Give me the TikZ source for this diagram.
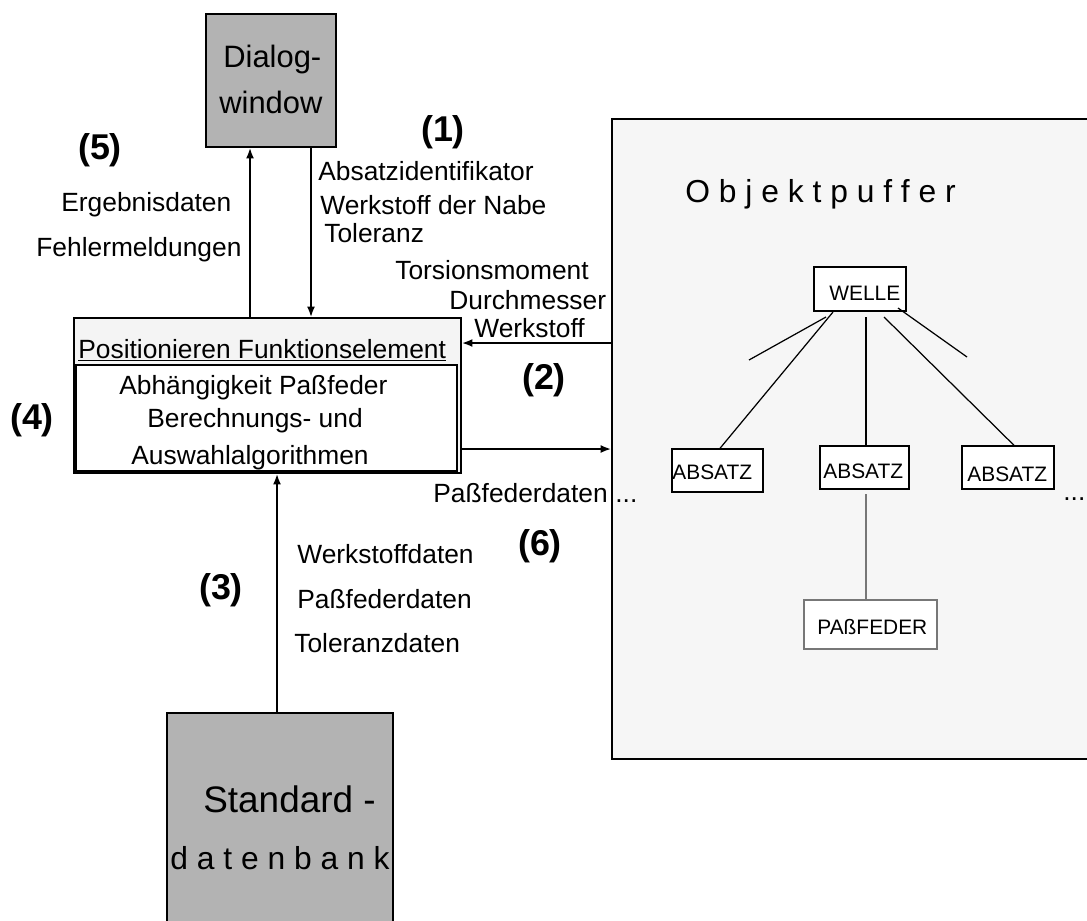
\documentclass[tikz,border=0pt]{standalone}
\usepackage{fontspec}
\setmainfont{Liberation Sans}
\usetikzlibrary{arrows.meta,fit}
\definecolor{boxgray}{HTML}{B3B3B3}
\definecolor{panel}{HTML}{F6F6F6}
\definecolor{headfill}{HTML}{F4F4F4}
\definecolor{thingray}{HTML}{777777}
\begin{document}
\begin{tikzpicture}[x=0.02cm,y=-0.02cm,
  box/.style={draw=black,line width=0.9pt,inner sep=0pt},
  leaf/.style={draw=black,line width=0.8pt,fill=white,inner sep=0pt},
  txt/.style={inner sep=0pt,anchor=base west,font=\fontsize{15}{18}\selectfont},
  small/.style={inner sep=0pt,anchor=base west,font=\fontsize{11.9}{14}\selectfont},
  big/.style={inner sep=0pt,anchor=base west,font=\fontsize{17.6}{21}\selectfont},
  num/.style={inner sep=0pt,font=\bfseries\fontsize{20.4}{24}\selectfont},
  flow/.style={line width=1.1pt,-{Latex[length=6pt,width=4.5pt]}},
  branch/.style={line width=0.7pt}]
\useasboundingbox (0,0) rectangle (1087,920);

% boxes
\node[box,fill=boxgray,fit={(206,14)(336,147)}] (dialog) {};
\node[box,fill=headfill,fit={(74,318)(461,473)}] (main) {};
\node[box,fill=white,line width=0.7pt,fit={(76,365)(457,471)}] (inner) {};
\node[box,fill=panel,fit={(612,119)(1100,759)}] (objekt) {};
\node[box,fill=boxgray,fit={(167,713)(393,940)}] (stdb) {};

% dialog window and standard database
\node[big] (dlg1) at (223,67) {Dialog-};
\node[big] (dlg2) at (219,113) {window};
\node[big,font=\fontsize{21}{25}\selectfont] (std1) at (203,812) {Standard -};
\node[big,font=\fontsize{18.1}{22}\selectfont] (std2) at (170,869) {d a t e n b a n k};

% function element
\node[txt] (title) at (78,358) {\underline{Positionieren Funktionselement}};
\node[txt] (f1) at (119,394) {Abhängigkeit Paßfeder};
\node[txt] (f2) at (147,427) {Berechnungs- und};
\node[txt] (f3) at (131,464) {Auswahlalgorithmen};

% connection points
\coordinate (xup) at (250,0);
\coordinate (xdown) at (311,0);
\coordinate (xdb) at (277,0);
\coordinate (yin) at (0,343);
\coordinate (yout) at (0,449);

% data flows
\draw[flow] (main.north -| xup) -- (dialog.south -| xup);
\draw[flow] (dialog.south -| xdown) -- (main.north -| xdown);
\draw[flow] (objekt.west |- yin) -- (main.east |- yin);
\draw[flow] (main.east |- yout) -- (objekt.west |- yout);
\draw[flow] (stdb.north -| xdb) -- (main.south -| xdb);

% flow labels
\node[num] (n5) at (100,150) {(5)};
\node[num] (n1) at (443,132) {(1)};
\node[num] (n2) at (544,380) {(2)};
\node[num] (n4) at (32,420) {(4)};
\node[num] (n3) at (221,590) {(3)};
\node[num] (n6) at (540,546) {(6)};

\node[txt] (l5a) at (61,211) {Ergebnisdaten};
\node[txt] (l5b) at (36,256) {Fehlermeldungen};
\node[txt] (l1a) at (318,180) {Absatzidentifikator};
\node[txt] (l1b) at (320,214) {Werkstoff der Nabe};
\node[txt] (l1c) at (324,242) {Toleranz};
\node[txt] (l2a) at (395,279) {Torsionsmoment};
\node[txt] (l2b) at (449,309) {Durchmesser};
\node[txt] (l2c) at (474,337) {Werkstoff};
\node[txt] (l6) at (433,502) {Paßfederdaten};
\node[txt] (l6dots) at (615,502) {...};
\node[txt] (l3a) at (297,563) {Werkstoffdaten};
\node[txt] (l3b) at (297,608) {Paßfederdaten};
\node[txt] (l3c) at (294,652) {Toleranzdaten};

% object buffer
\node[big,font=\fontsize{18.1}{22}\selectfont] (otitle) at (685,202) {O b j e k t p u f f e r};
\node[leaf,fit={(814,267)(906,311)}] (welle) {};
\node[leaf,fit={(672,449)(763,492)}] (abs1) {};
\node[leaf,fit={(820,446)(909,489)}] (abs2) {};
\node[leaf,fit={(962,446)(1054,489)}] (abs3) {};
\node[leaf,draw=thingray,fit={(804,600)(937,649)}] (pass) {};
\node[small] (twelle) at (829,300) {WELLE};
\node[small] (tabs1) at (672,479) {ABSATZ};
\node[small] (tabs2) at (823,478) {ABSATZ};
\node[small] (tabs3) at (967,481) {ABSATZ};
\node[small] (tpass) at (817,634) {PAßFEDER};
\node[txt] (rdots) at (1063,500) {...};

% tree branches
\coordinate (wl) at (833,312);
\coordinate (wm) at (866,317);
\coordinate (wr) at (884,317);
\coordinate (sl0) at (826,317);
\coordinate (sl1) at (749,360);
\coordinate (sr0) at (898,308);
\coordinate (sr1) at (967,357);
\coordinate (pm) at (866,494);
\draw[branch] (wl) -- (abs1.north -| 720,0);
\draw[branch] (wm) -- (abs2.north -| wm);
\draw[branch] (wr) -- (abs3.north -| 1014,0);
\draw[branch] (sl0) -- (sl1);
\draw[branch] (sr0) -- (sr1);
\draw[branch,draw=thingray] (pm) -- (pass.north -| pm);
\end{tikzpicture}
\end{document}
